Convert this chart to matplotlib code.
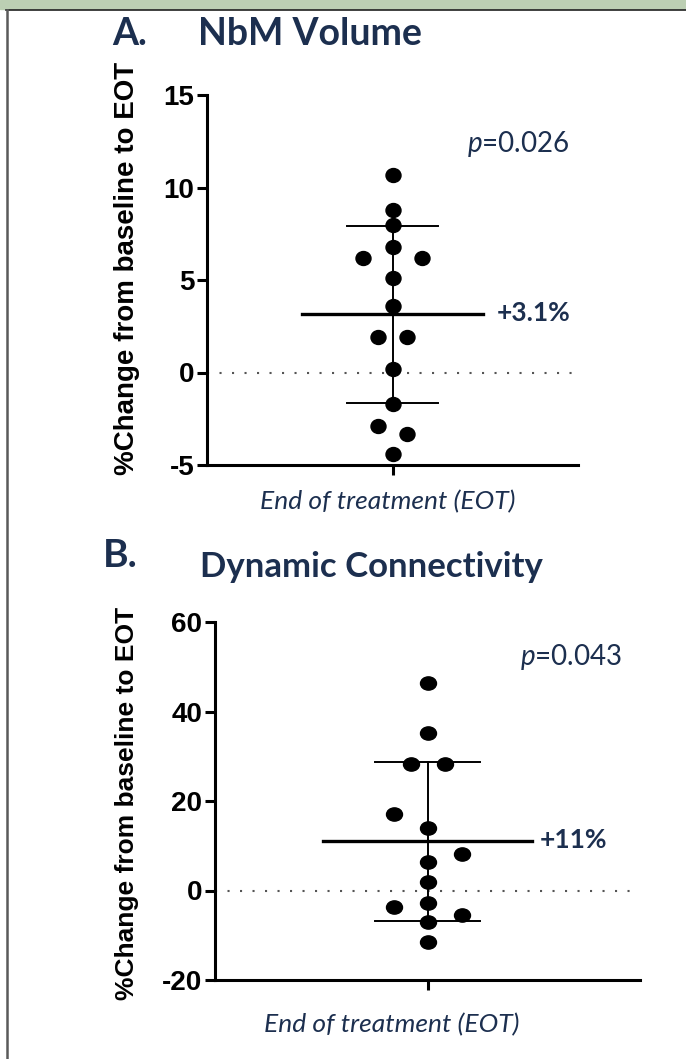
import numpy as np
import matplotlib
matplotlib.use("Agg")
from matplotlib import pyplot as plt
from matplotlib.path import Path
from matplotlib.transforms import Affine2D
from matplotlib.patches import Rectangle
from matplotlib.lines import Line2D

plt.rcParams['mathtext.fontset'] = 'custom'
plt.rcParams['mathtext.rm'] = 'Lato'
plt.rcParams['mathtext.it'] = 'Lato:italic'
plt.rcParams['mathtext.bf'] = 'Lato:bold'
plt.rcParams['axes.unicode_minus'] = False

# % change from baseline to EOT
nbm_vals = [10.7, 8.8, 8.0, 6.8, 6.2, 6.2, 5.1, 3.6, 1.9, 1.9, 0.2, -1.7, -2.9, -3.3, -4.4]
nbm_jitter = [0, 0, 0, 0, -0.16, 0.16, 0, 0, -0.08, 0.08, 0, 0, -0.08, 0.08, 0]
dyn_vals = [46.3, 35.1, 28.3, 28.3, 17.0, 13.9, 8.1, 6.3, 2.0, -2.9, -3.6, -5.5, -7.1, -11.6]
dyn_jitter = [0, 0, -0.08, 0.08, -0.16, 0, 0.16, 0, 0, 0, -0.16, 0.16, 0, 0]

panel_letters = ["A.", "B."]
panel_titles = ["NbM Volume", "Dynamic Connectivity"]
p_values = ["0.026", "0.043"]
mean_labels = ["+3.1%", "+11%"]
ylims = [(-5, 15), (-20, 60)]
yticks = [[-5, 0, 5, 10, 15], [-20, 0, 20, 40, 60]]
xlabel = "End of treatment (EOT)"
ylabel = "%Change from baseline to EOT"

navy = "#1c2f4f"
W, H = 686, 1059
fig = plt.figure(figsize=(W / 100, H / 100), dpi=100)

def fx(x):
    return x / W

def fy(y):
    return 1 - y / H

# frame of the slide
fig.patches.append(Rectangle((0, fy(9)), 1, 9 / H, transform=fig.transFigure, color="#bccfb3", zorder=0))
fig.lines.append(Line2D([fx(6), 1], [fy(10), fy(10)], transform=fig.transFigure, color="#222222", lw=1.2))
fig.lines.append(Line2D([fx(6.5), fx(6.5)], [0, fy(10)], transform=fig.transFigure, color="#5a5a5a", lw=1.8))

# axes boxes in pixels: left, top, right, bottom
boxes = [(207, 95, 578, 465), (215, 622, 640, 980)]
marker_ratio = [0.93, 0.83]
marker_size = [10.8, 11.5]

data = [(nbm_vals, nbm_jitter), (dyn_vals, dyn_jitter)]

for i in range(2):
    l, t, r, b = boxes[i]
    ax = fig.add_axes([fx(l), fy(b), (r - l) / W, (b - t) / H])
    vals = np.array(data[i][0])
    jit = np.array(data[i][1])
    m = vals.mean()
    sd = vals.std(ddof=1)

    ax.axhline(0, color="#555555", lw=1.5, ls=(0, (1, 5)), zorder=1)
    ax.plot([-0.49, 0.49], [m, m], color="black", lw=2.4, zorder=2)
    ax.plot([0, 0], [m - sd, m + sd], color="black", lw=1.4, zorder=2)
    ax.plot([-0.245, 0.245], [m + sd, m + sd], color="black", lw=1.4, zorder=2)
    ax.plot([-0.245, 0.245], [m - sd, m - sd], color="black", lw=1.4, zorder=2)

    ell = Affine2D().scale(1, marker_ratio[i]).transform_path(Path.unit_circle())
    ax.plot(jit, vals, ls="none", marker=ell, ms=marker_size[i], color="black", zorder=3)

    ax.set_xlim(-1, 1)
    ax.set_ylim(*ylims[i])
    ax.set_yticks(yticks[i])
    ax.set_xticks([0])
    ax.set_xticklabels([""])
    for s in ["top", "right"]:
        ax.spines[s].set_visible(False)
    for s in ["left", "bottom"]:
        ax.spines[s].set_linewidth(2.2)
    ax.tick_params(width=2.2, length=7, direction="out", pad=2)
    for lab in ax.get_yticklabels():
        lab.set_fontfamily("Liberation Sans")
        lab.set_fontweight("bold")
        lab.set_fontsize(20)

# text
fig.text(fx(112), fy(45), panel_letters[0], fontsize=27, fontweight="bold", family="Lato", color=navy, va="baseline")
fig.text(fx(198), fy(45), panel_titles[0], fontsize=27, fontweight="bold", family="Lato", color=navy, va="baseline")
fig.text(fx(103), fy(567), panel_letters[1], fontsize=28, fontweight="bold", family="Lato", color=navy, va="baseline")
fig.text(fx(200), fy(577), panel_titles[1], fontsize=25, fontweight="bold", family="Lato", color=navy, va="baseline")

fig.text(fx(467), fy(152), r"$\mathit{p}$=" + p_values[0], fontsize=20, family="Lato", color=navy, va="baseline")
fig.text(fx(520), fy(665), r"$\mathit{p}$=" + p_values[1], fontsize=20, family="Lato", color=navy, va="baseline")
fig.text(fx(497), fy(313), mean_labels[0], fontsize=19, fontweight="bold", family="Lato", color=navy, va="center")
fig.text(fx(540), fy(840), mean_labels[1], fontsize=19, fontweight="bold", family="Lato", color=navy, va="center")

fig.text(fx(388), fy(502), xlabel, fontsize=19, style="italic", family="Lato", color=navy, ha="center", va="center")
fig.text(fx(392), fy(1025), xlabel, fontsize=19, style="italic", family="Lato", color=navy, ha="center", va="center")

fig.text(fx(127), fy(268), ylabel, fontsize=20, fontweight="bold", family="Liberation Sans", rotation=90, ha="center", va="center")
fig.text(fx(127), fy(803), ylabel, fontsize=19, fontweight="bold", family="Liberation Sans", rotation=90, ha="center", va="center")

fig.savefig("out.png", dpi=100)
